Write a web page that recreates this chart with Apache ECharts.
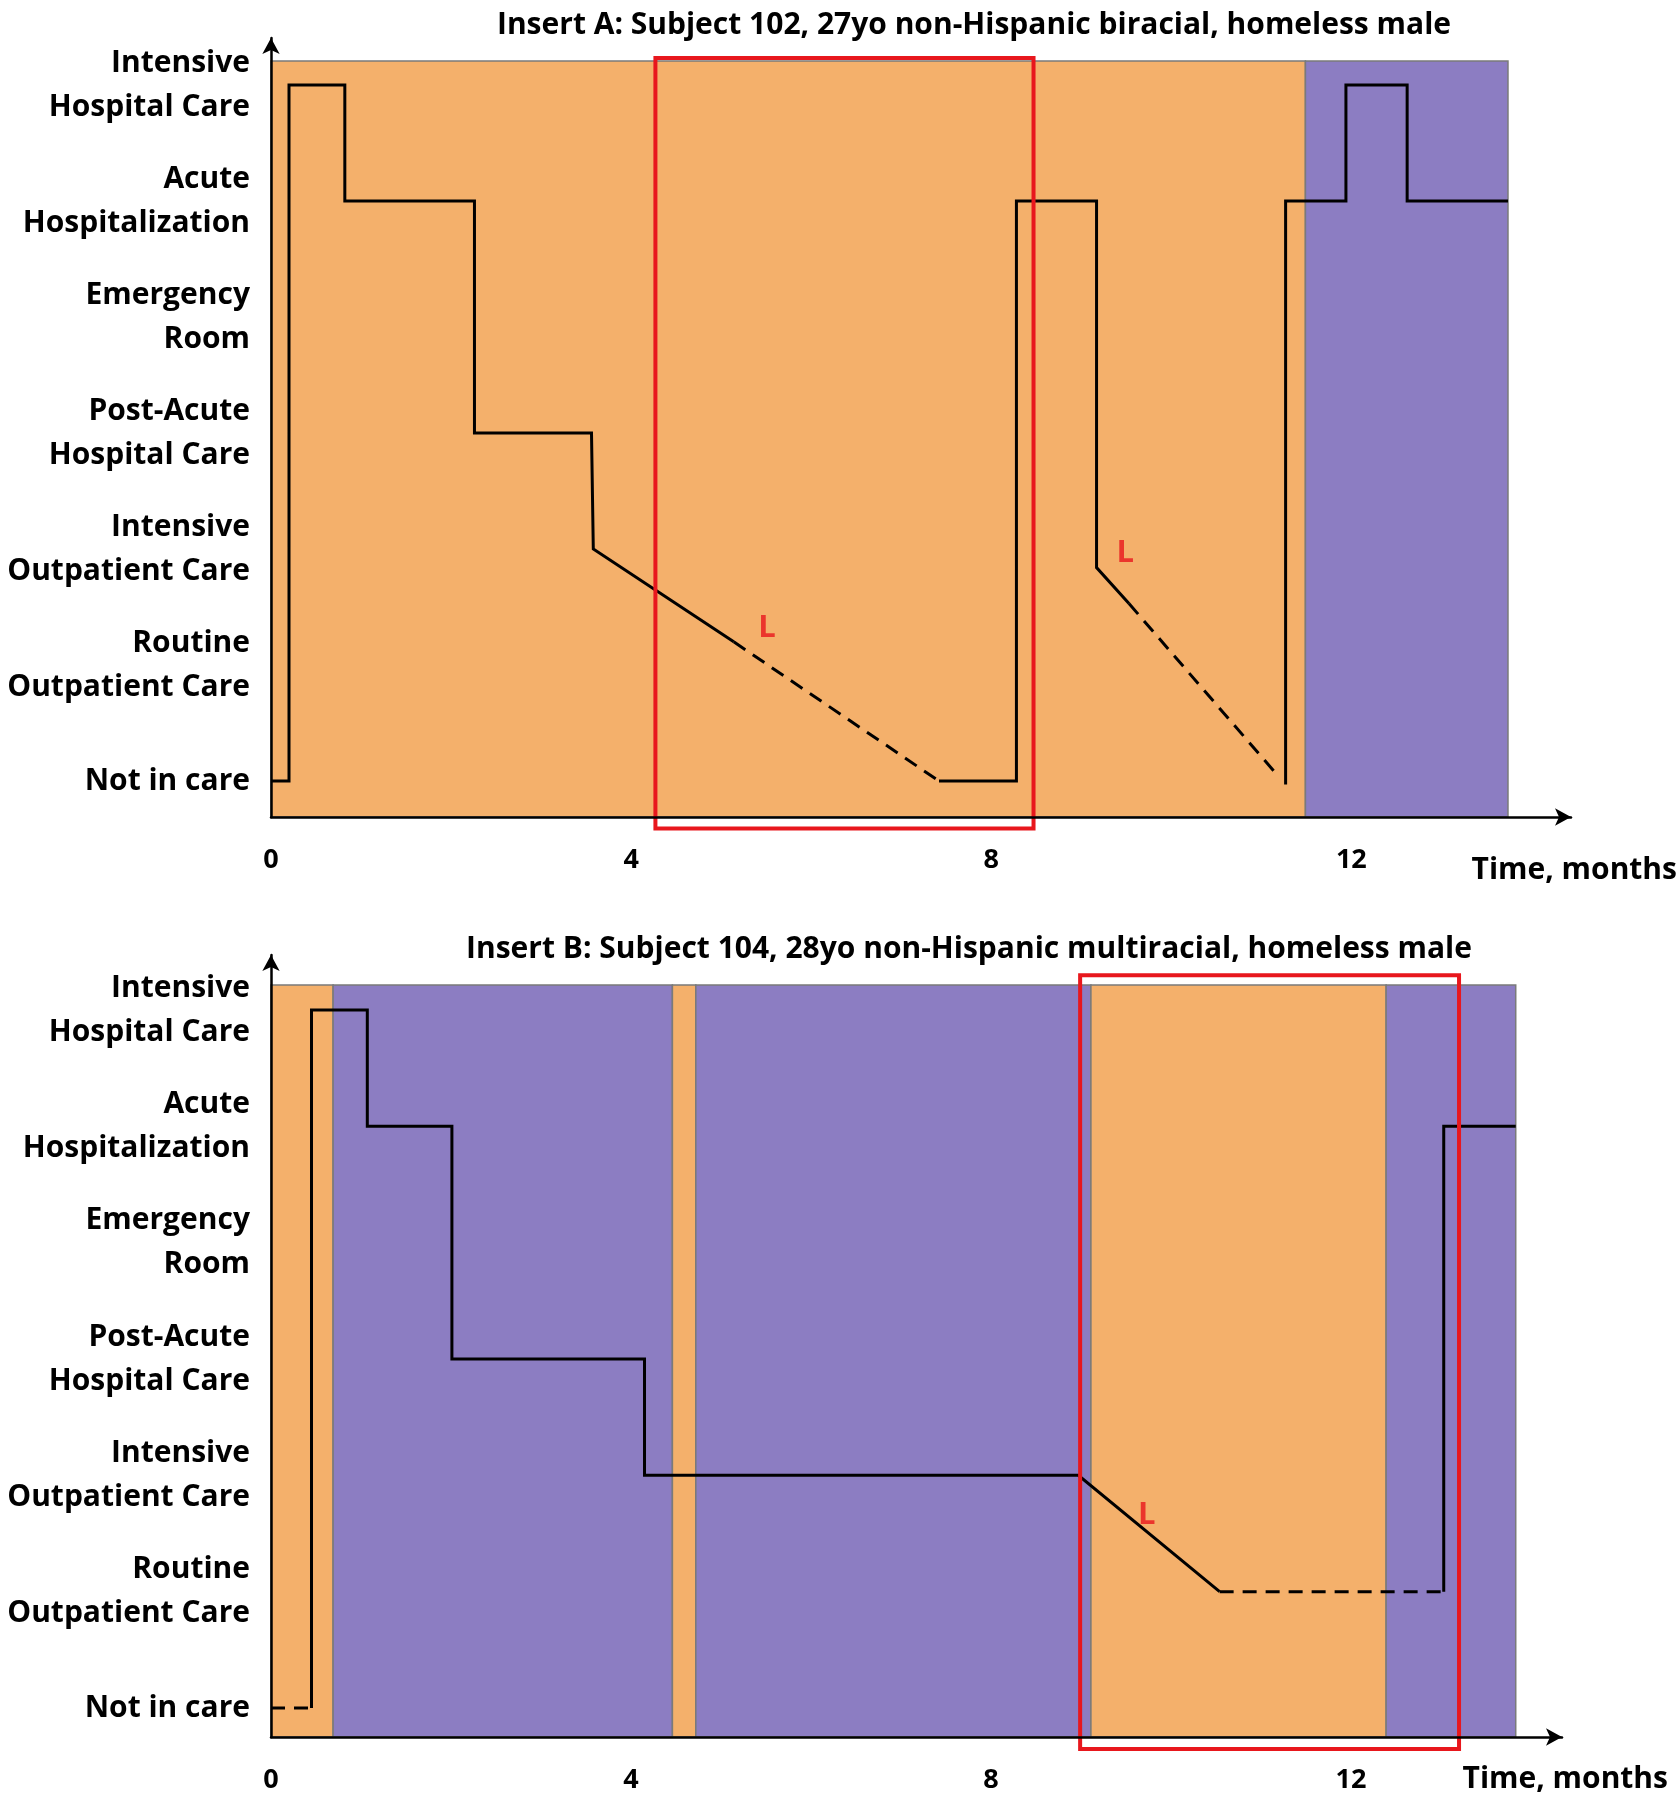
<!DOCTYPE html>
<html><head><meta charset="utf-8">
<script src="https://cdn.jsdelivr.net/npm/echarts@6/dist/echarts.min.js"></script>
<style>html,body{margin:0;padding:0;background:#fff}#c{width:1678px;height:1800px}</style>
</head><body><div id="c"></div>
<script>
// ---------- data ----------
const levelLabels = ['Not in care', 'Routine\nOutpatient Care', 'Intensive\nOutpatient Care',
  'Post-Acute\nHospital Care', 'Emergency\nRoom', 'Acute\nHospitalization', 'Intensive\nHospital Care'];
const levelValues = [0, 1, 2, 3, 4, 5, 6];
const timeTicks = [0, 4, 8, 12];
const titleA = 'Insert A: Subject 102, 27yo non-Hispanic biracial, homeless male';
const titleB = 'Insert B: Subject 104, 28yo non-Hispanic multiracial, homeless male';
const timeName = 'Time, months';

// background periods: [start month, end month, status code 0=orange 1=purple]
const periodsA = [[0, 11.49, 0], [11.49, 13.74, 1]];
const periodsB = [[0, 0.69, 0], [0.69, 4.46, 1], [4.46, 4.72, 0], [4.72, 9.11, 1], [9.11, 12.39, 0], [12.39, 13.83, 1]];

// highlighted windows (red boxes): [start, end]
const highlightA = [[4.27, 8.47]];
const highlightB = [[8.99, 13.2]];

// care trajectory, panel A
const aSolid1 = [[0, 0], [0.2, 0], [0.2, 6], [0.82, 6], [0.82, 5], [2.26, 5], [2.26, 3], [3.56, 3], [3.58, 2], [5.14, 1.2]];
const aDash1 = [[5.14, 1.2], [7.42, 0]];
const aSolid2 = [[7.42, 0], [8.28, 0], [8.28, 5], [9.17, 5], [9.17, 1.84], [9.53, 1.53]];
const aDash2 = [[9.53, 1.53], [11.18, 0.05]];
const aSolid3 = [[11.27, -0.03], [11.27, 5], [11.94, 5], [11.94, 6], [12.62, 6], [12.62, 5], [13.74, 5]];
const aLoss = [[5.51, 1.32], [9.49, 1.96]];

// care trajectory, panel B
const bDash1 = [[0, 0], [0.45, 0]];
const bSolid1 = [[0.45, 0], [0.45, 6], [1.07, 6], [1.07, 5], [2.01, 5], [2.01, 3], [4.15, 3], [4.15, 2], [8.97, 2], [10.54, 1]];
const bDash2 = [[10.54, 1], [13.03, 1]];
const bSolid2 = [[13.03, 1], [13.03, 5], [13.83, 5]];
const bLoss = [[9.73, 1.66]];

// ---------- style ----------
const FONT = 'Open Sans';
const ORANGE = '#F4B06B', PURPLE = '#8C7DC2', RED = '#E8171D';
const panels = [
  {grid: {left: 271, top: 38, width: 1300, height: 779}, xMax: 14.44, yMin: -0.31, yMax: 6.405, bandTop: 6.207, boxTop: 6.233, boxBottom: -0.41},
  {grid: {left: 271, top: 955, width: 1291, height: 782}, xMax: 14.344, yMin: -0.249, yMax: 6.473, bandTop: 6.215, boxTop: 6.30, boxBottom: -0.353}
];

function xAxisCfg(i) {
  return {type: 'value', gridIndex: i, min: 0, max: panels[i].xMax, z: 10,
    axisLine: {show: true, onZero: false, symbol: ['none', 'arrow'], symbolSize: [13, 16], lineStyle: {color: '#000', width: 2.5}},
    axisTick: {show: false}, splitLine: {show: false},
    axisLabel: {show: true, customValues: timeTicks, fontFamily: FONT, fontWeight: 'bold', fontSize: 27, color: '#000', margin: 30}};
}
function yAxisCfg(i) {
  return {type: 'value', gridIndex: i, min: panels[i].yMin, max: panels[i].yMax, z: 10,
    axisLine: {show: true, onZero: false, symbol: ['none', 'arrow'], symbolSize: [13, 16], lineStyle: {color: '#000', width: 2.5}},
    axisTick: {show: false}, splitLine: {show: false},
    axisLabel: {show: true, customValues: levelValues, formatter: v => levelLabels[Math.round(v)],
      fontFamily: FONT, fontWeight: 'bold', fontSize: 30, lineHeight: 44, color: '#000', margin: 21, align: 'right'}};
}
function bandSeries(i, periods) {
  const p = panels[i];
  return {type: 'custom', xAxisIndex: i, yAxisIndex: i, z: 1, silent: true, data: periods,
    renderItem: (params, api) => {
      const a = api.coord([api.value(0), p.bandTop]);
      const b = api.coord([api.value(1), p.yMin]);
      return {type: 'rect', shape: {x: a[0], y: a[1], width: b[0] - a[0], height: b[1] - a[1]},
        style: {fill: api.value(2) === 0 ? ORANGE : PURPLE, stroke: '#7a7a7a', lineWidth: 1.5}};
    }};
}
function boxSeries(i, boxes) {
  const p = panels[i];
  return {type: 'custom', xAxisIndex: i, yAxisIndex: i, z: 6, silent: true, clip: false, data: boxes,
    renderItem: (params, api) => {
      const a = api.coord([api.value(0), p.boxTop]);
      const b = api.coord([api.value(1), p.boxBottom]);
      return {type: 'rect', shape: {x: a[0], y: a[1], width: b[0] - a[0], height: b[1] - a[1]},
        style: {fill: 'none', stroke: RED, lineWidth: 4}};
    }};
}
function lineSeries(i, data, dashed) {
  return {type: 'line', xAxisIndex: i, yAxisIndex: i, z: 4, data, showSymbol: false, symbol: 'none', clip: false, silent: true,
    lineStyle: {color: '#000', width: 3, type: dashed ? [14, 9] : 'solid', join: 'miter', cap: 'butt'}};
}
function lossSeries(i, data) {
  return {type: 'scatter', xAxisIndex: i, yAxisIndex: i, z: 7, data, symbolSize: 1, silent: true,
    itemStyle: {color: 'rgba(0,0,0,0)'},
    label: {show: true, position: 'inside', formatter: 'L', color: RED, fontFamily: FONT, fontWeight: 'bold', fontSize: 31}};
}

const txt = (text, x, y, align, size) => ({type: 'text', x, y, silent: true,
  style: {text, fill: '#000', fontFamily: FONT, fontWeight: 'bold', fontSize: size, align, verticalAlign: 'middle'}});

const option = {
  backgroundColor: '#fff',
  animation: false,
  grid: panels.map(p => Object.assign({containLabel: false, outerBoundsMode: 'none'}, p.grid)),
  xAxis: [xAxisCfg(0), xAxisCfg(1)],
  yAxis: [yAxisCfg(0), yAxisCfg(1)],
  graphic: [
    txt(titleA, 974, 25, 'center', 30),
    txt(titleB, 969, 949, 'center', 30),
    txt(timeName, 1677, 870, 'right', 30),
    txt(timeName, 1668, 1779, 'right', 30)
  ],
  series: [
    bandSeries(0, periodsA), bandSeries(1, periodsB),
    lineSeries(0, aSolid1), lineSeries(0, aDash1, true), lineSeries(0, aSolid2), lineSeries(0, aDash2, true), lineSeries(0, aSolid3),
    lineSeries(1, bDash1, true), lineSeries(1, bSolid1), lineSeries(1, bDash2, true), lineSeries(1, bSolid2),
    boxSeries(0, highlightA), boxSeries(1, highlightB),
    lossSeries(0, aLoss), lossSeries(1, bLoss)
  ]
};
const chart = echarts.init(document.getElementById('c'), null, {renderer: 'canvas'});
chart.setOption(option);
</script>
</body></html>
